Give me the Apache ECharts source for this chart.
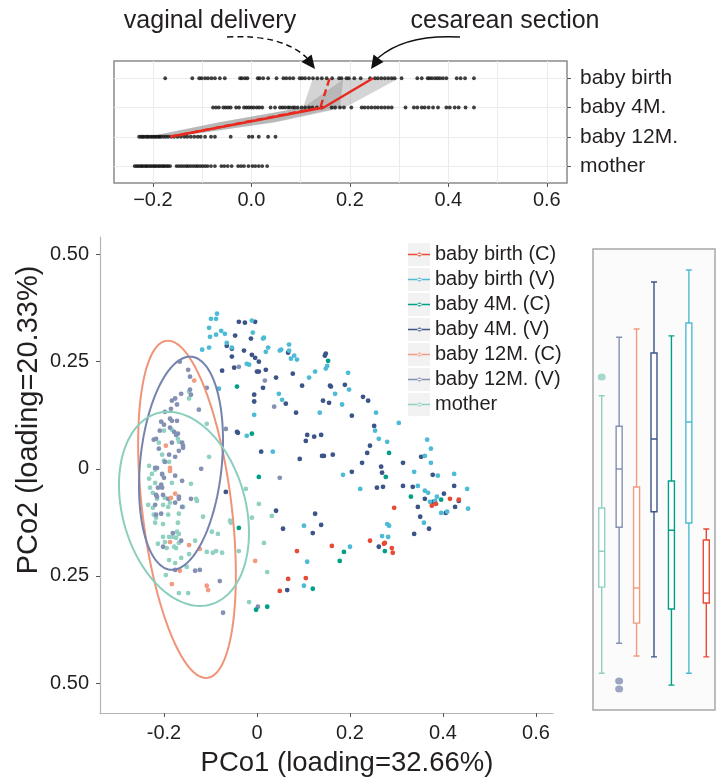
<!DOCTYPE html>
<html><head><meta charset="utf-8">
<script src="https://cdn.jsdelivr.net/npm/echarts@6/dist/echarts.min.js"></script>
<style>html,body{margin:0;padding:0;background:#fff}#c{width:727px;height:781px}</style>
</head><body><div id="c"></div>
<script>
// ---------------- DATA ----------------
const groupNames = ['baby birth (C)','baby birth (V)','baby 4M. (C)','baby 4M. (V)','baby 12M. (C)','baby 12M. (V)','mother'];
const groupColors = ['#E64B35','#4DBBD5','#00A087','#3C5488','#F39B7F','#8491B4','#91D1C2'];

const birthC = [[0.295,-0.091],[0.415,-0.070],[0.434,-0.072],[0.376,-0.086],[0.385,-0.082],[0.243,-0.168],[0.273,-0.175],[0.275,-0.173],[0.290,-0.185],[0.292,-0.196],[0.161,-0.180],[0.086,-0.192],[0.105,-0.255],[0.067,-0.257],[0.049,-0.285]];
const birthV = [[0.034,0.040],[0.280,0.063],[0.366,0.068],[0.374,0.047],[0.361,0.030],[0.374,0.014],[0.338,-0.007],[0.389,-0.016],[0.424,-0.012],[0.452,-0.047],[0.454,-0.093],[0.185,-0.014],[0.222,-0.047],[0.346,-0.040],[0.361,-0.051],[0.368,-0.056],[0.372,-0.077],[0.383,-0.075],[0.387,-0.065],[0.396,-0.103],[0.409,-0.100],[0.359,-0.126],[0.280,-0.129],[0.284,-0.133],[0.269,-0.157],[0.282,-0.159],[0.101,-0.133],[0.200,-0.182],[0.108,-0.217],[0.101,-0.273],[-0.086,0.362],[-0.099,0.350],[-0.088,0.350],[-0.103,0.329],[-0.077,0.322],[-0.069,0.315],[-0.088,0.313],[-0.101,0.308],[-0.118,0.278],[-0.103,0.283],[-0.065,0.294],[-0.054,0.283],[-0.011,0.346],[-0.009,0.318],[0.013,0.304],[0.015,0.306],[0.024,0.283],[0.019,0.273],[-0.022,0.245],[-0.017,0.243],[0.049,0.276],[0.052,0.278],[0.069,0.290],[0.069,0.276],[0.080,0.264],[0.073,0.257],[0.086,0.255],[0.112,0.213],[0.125,0.227],[0.148,0.234],[0.151,0.240],[0.196,0.224],[0.198,0.185],[0.168,0.175],[0.183,0.150],[0.047,0.175],[0.054,0.161],[0.135,0.131],[-0.082,0.187],[-0.006,0.126],[-0.022,0.077],[0.256,0.131],[0.305,0.107],[0.254,0.089],[0.262,0.070]];
const m4C = [[0.284,0.037],[0.004,-0.019],[0.277,-0.019],[0.331,-0.065],[0.396,-0.072],[0.187,-0.194],[0.275,-0.192],[0.178,-0.215],[0.120,-0.280],[0.022,-0.322],[-0.002,-0.329],[-0.043,0.192],[0.153,0.252],[-0.011,0.082],[-0.039,-0.138]];
const m4V = [[0.105,0.065],[0.009,0.040],[0.092,0.023],[0.140,0.030],[0.144,0.030],[0.163,0.033],[0.243,0.054],[0.237,0.037],[0.226,0.014],[0.204,-0.007],[0.267,0.005],[0.269,-0.009],[0.258,-0.044],[0.271,-0.042],[0.314,0.014],[0.353,0.028],[0.314,-0.040],[0.335,-0.042],[0.378,-0.014],[0.402,-0.058],[0.424,-0.040],[0.361,-0.070],[0.434,-0.075],[0.426,-0.089],[0.406,-0.103],[0.346,-0.089],[0.351,-0.112],[0.370,-0.140],[0.338,-0.152],[0.041,-0.098],[0.125,-0.105],[0.056,-0.140],[0.138,-0.131],[0.120,-0.150],[0.262,-0.182],[0.065,-0.283],[0.378,-0.077],[-0.039,0.343],[-0.026,0.341],[-0.004,0.343],[-0.047,0.311],[-0.013,0.304],[-0.065,0.287],[-0.054,0.280],[-0.028,0.276],[-0.011,0.266],[-0.004,0.259],[0.004,0.250],[-0.054,0.262],[-0.049,0.236],[-0.075,0.229],[0.000,0.227],[0.004,0.227],[0.019,0.231],[0.067,0.271],[0.041,0.213],[0.077,0.222],[0.146,0.264],[0.148,0.269],[0.097,0.194],[0.157,0.194],[0.159,0.192],[0.189,0.196],[-0.006,0.173],[-0.006,0.157],[0.013,0.189],[0.062,0.152],[0.142,0.159],[0.155,0.154],[0.084,0.131],[0.204,0.124],[-0.043,0.086],[-0.041,0.084],[0.108,0.079],[0.123,0.075],[0.138,0.079],[0.228,0.168],[0.239,0.159],[0.252,0.100],[-0.067,-0.054]];
const m12C = [[-0.135,0.206],[-0.196,0.054],[-0.187,0.002],[-0.187,-0.005],[-0.176,-0.058],[-0.185,-0.068],[-0.187,-0.171],[-0.146,-0.178],[-0.123,-0.187],[-0.166,-0.238],[-0.183,-0.269],[-0.108,-0.273],[-0.105,-0.283],[-0.004,-0.215]];
const m12V = [[0.049,-0.021],[0.002,-0.322],[-0.039,0.238],[0.017,0.206],[0.037,0.145],[-0.108,0.189],[-0.067,0.093],[-0.166,0.250],[-0.148,0.231],[-0.144,0.215],[-0.144,0.185],[-0.142,0.173],[-0.163,0.175],[-0.183,0.159],[-0.176,0.164],[-0.172,0.150],[-0.185,0.140],[-0.198,0.133],[-0.125,0.138],[-0.206,0.110],[-0.187,0.117],[-0.183,0.112],[-0.172,0.112],[-0.200,0.103],[-0.209,0.089],[-0.187,0.096],[-0.178,0.086],[-0.170,0.082],[-0.174,0.079],[-0.222,0.068],[-0.217,0.070],[-0.183,0.061],[-0.161,0.061],[-0.159,0.054],[-0.159,0.049],[-0.168,0.042],[-0.211,0.047],[-0.189,0.033],[-0.176,0.028],[-0.198,0.016],[-0.219,0.002],[-0.215,0.002],[-0.120,0.000],[-0.204,-0.012],[-0.200,-0.021],[-0.176,-0.016],[-0.161,-0.028],[-0.206,-0.037],[-0.213,-0.044],[-0.204,-0.044],[-0.217,-0.061],[-0.215,-0.065],[-0.202,-0.061],[-0.191,-0.070],[-0.168,-0.065],[-0.168,-0.070],[-0.142,-0.070],[-0.176,-0.079],[-0.161,-0.089],[-0.219,-0.084],[-0.217,-0.107],[-0.206,-0.105],[-0.181,-0.150],[-0.202,-0.182],[-0.163,-0.168],[-0.133,-0.238],[-0.123,-0.236],[-0.176,-0.236],[-0.080,-0.262],[-0.073,-0.336]];
const mother = [[0.004,-0.082],[0.032,-0.110],[-0.011,-0.114],[0.015,-0.173],[0.022,-0.241],[-0.017,-0.311],[-0.146,0.164],[-0.146,0.180],[-0.200,0.089],[-0.183,0.091],[-0.170,0.070],[-0.168,0.063],[-0.211,0.061],[-0.204,0.033],[-0.200,0.019],[-0.189,0.016],[-0.232,0.007],[-0.219,-0.002],[-0.226,-0.012],[-0.232,-0.023],[-0.204,-0.014],[-0.219,-0.033],[-0.230,-0.044],[-0.224,-0.056],[-0.183,-0.033],[-0.142,-0.035],[-0.103,0.028],[-0.198,-0.068],[-0.202,-0.084],[-0.234,-0.084],[-0.215,-0.070],[-0.224,-0.091],[-0.191,-0.089],[-0.187,-0.079],[-0.159,-0.089],[-0.131,-0.070],[-0.129,-0.075],[-0.222,-0.107],[-0.217,-0.114],[-0.219,-0.126],[-0.191,-0.107],[-0.168,-0.105],[-0.202,-0.129],[-0.170,-0.126],[-0.116,-0.112],[-0.058,-0.121],[-0.056,-0.126],[-0.172,-0.147],[-0.168,-0.152],[-0.202,-0.159],[-0.189,-0.159],[-0.181,-0.159],[-0.174,-0.161],[-0.168,-0.173],[-0.213,-0.175],[-0.198,-0.171],[-0.133,-0.168],[-0.097,-0.147],[-0.084,-0.152],[-0.178,-0.182],[-0.174,-0.185],[-0.194,-0.185],[-0.146,-0.199],[-0.163,-0.208],[-0.189,-0.213],[-0.176,-0.220],[-0.151,-0.229],[-0.108,-0.194],[-0.095,-0.196],[-0.088,-0.192],[-0.075,-0.196],[-0.196,-0.248],[-0.168,-0.290],[-0.148,-0.290],[-0.039,-0.192],[-0.024,-0.047],[-0.108,0.105]];

// 95% ellipses: centre and two conjugate half-axes (data units)
const ellipseGroups = ['baby 12M. (C)','baby 12M. (V)','mother'];
const ellipseColors = ['#F09478','#7482AE','#8CCEBE'];
const ellipseCenters = [[-0.1505,-0.0946],[-0.1634,0.0129],[-0.1570,-0.0935]];
const ellipseAxisA = [[-0.0409,0.3937],[0.0194,0.2488],[-0.0344,0.2266]];
const ellipseAxisB = [[0.0968,0],[0.0882,0],[0.1355,0]];

// top panel: PCo1 per time point
const rowNames = ['mother','baby 12M.','baby 4M.','baby birth'];
const rowBirth = [-0.175,-0.120,-0.106,-0.101,-0.094,-0.088,-0.081,-0.074,-0.064,-0.054,-0.023,-0.019,-0.013,-0.008,0.013,0.017,0.024,0.034,0.051,0.065,0.071,0.078,0.085,0.098,0.103,0.109,0.117,0.125,0.134,0.143,0.153,0.164,0.178,0.183,0.193,0.198,0.209,0.222,0.241,0.251,0.257,0.264,0.271,0.278,0.285,0.291,0.305,0.337,0.346,0.358,0.362,0.367,0.373,0.378,0.383,0.389,0.396,0.417,0.425,0.434,0.452];
const row4M = [-0.078,-0.072,-0.066,-0.057,-0.052,-0.047,-0.042,-0.031,-0.025,-0.015,-0.010,-0.005,0.000,0.005,0.011,0.016,0.022,0.039,0.048,0.058,0.063,0.068,0.074,0.078,0.084,0.088,0.094,0.102,0.109,0.117,0.124,0.133,0.143,0.163,0.170,0.180,0.188,0.203,0.224,0.230,0.237,0.244,0.251,0.257,0.264,0.271,0.278,0.285,0.313,0.330,0.337,0.346,0.352,0.360,0.369,0.379,0.396,0.403,0.413,0.421,0.435,0.452];
const row12M = [-0.228,-0.224,-0.221,-0.218,-0.214,-0.211,-0.208,-0.204,-0.201,-0.197,-0.194,-0.190,-0.187,-0.184,-0.179,-0.174,-0.169,-0.163,-0.157,-0.150,-0.143,-0.136,-0.130,-0.123,-0.116,-0.109,-0.103,-0.094,-0.082,-0.074,-0.042,-0.005,0.002,0.015,0.034,0.049];
const rowMother = [-0.237,-0.233,-0.230,-0.226,-0.223,-0.220,-0.216,-0.213,-0.210,-0.206,-0.203,-0.199,-0.196,-0.193,-0.189,-0.186,-0.182,-0.179,-0.176,-0.172,-0.169,-0.165,-0.152,-0.147,-0.142,-0.137,-0.132,-0.128,-0.123,-0.118,-0.113,-0.109,-0.104,-0.099,-0.094,-0.089,-0.082,-0.074,-0.061,-0.055,-0.048,-0.040,-0.027,-0.021,-0.015,-0.006,0.002,0.008,0.015,0.022,0.032];

// mean trajectories (levels: 1 = 12M, 2 = 4M, 3 = birth)
const trajLevels = [1,2,3];
const cesareanX = [-0.165,0.147,0.247];
const vaginalX = [-0.165,0.140,0.159];
const bandLevelsC = [1,1.5,2,3];
const bandLowC = [-0.21,-0.065,0.105,0.19];
const bandHighC = [-0.155,0.05,0.19,0.30];
const bandLevelsV = [1,1.5,2,3];
const bandLowV = [-0.21,-0.065,0.105,0.125];
const bandHighV = [-0.155,0.045,0.18,0.187];

// side box plots of PCo2: [min, Q1, median, Q3, max]
const boxOrder = ['mother','baby 12M. (V)','baby 12M. (C)','baby 4M. (V)','baby 4M. (C)','baby birth (V)','baby birth (C)'];
const boxColors = ['#91D1C2','#8491B4','#F39B7F','#3C5488','#00A087','#4DBBD5','#E64B35'];
const boxStats = [
  [-0.477,-0.276,-0.192,-0.091,0.171],
  [-0.407,-0.136,0.000,0.100,0.308],
  [-0.437,-0.360,-0.278,-0.042,0.327],
  [-0.439,-0.100,0.070,0.271,0.437],
  [-0.505,-0.327,-0.143,-0.028,0.311],
  [-0.477,-0.126,0.110,0.341,0.465],
  [-0.439,-0.313,-0.290,-0.166,-0.140]
];
const boxOutliers = [[0,0.215],[1,-0.495],[1,-0.514]];

const mainXTicks = [-0.2,0,0.2,0.4,0.6];
const mainYTicks = [-0.5,-0.25,0,0.25,0.5];
const topXTicks = [-0.2,0,0.2,0.4,0.6];
const topGridX = [-0.2,-0.1,0,0.1,0.2,0.3,0.4,0.5,0.6];

// ---------------- CHART ----------------
const FONT = 'Liberation Sans, Arial, Helvetica, sans-serif';
const TXT = '#231f20';
const chart = echarts.init(document.getElementById('c'), null, {renderer:'canvas'});

const groupData = [birthC, birthV, m4C, m4V, m12C, m12V, mother];
const drawOrder = [6,5,4,3,2,1,0];

function ellipsePoints(i){
  const pts=[]; const c=ellipseCenters[i], a=ellipseAxisA[i], b=ellipseAxisB[i];
  for(let k=0;k<=120;k++){const t=2*Math.PI*k/120;
    pts.push([c[0]+a[0]*Math.cos(t)+b[0]*Math.sin(t), c[1]+a[1]*Math.cos(t)+b[1]*Math.sin(t)]);}
  return pts;
}

const series = [];
drawOrder.forEach(g=>{
  series.push({name:groupNames[g], type:'scatter', xAxisIndex:0, yAxisIndex:0,
    data:groupData[g], symbolSize:4.8, itemStyle:{color:groupColors[g], opacity:1}, z:3});
});
ellipseGroups.forEach((n,i)=>{
  series.push({name:'ellipse '+n, type:'line', xAxisIndex:0, yAxisIndex:0, data:ellipsePoints(i),
    showSymbol:false, symbol:'none', lineStyle:{color:ellipseColors[i], width:2}, z:4, silent:true});
});

// top panel
const bandDefs = [
  {lv:bandLevelsC, lo:bandLowC, hi:bandHighC},
  {lv:bandLevelsV, lo:bandLowV, hi:bandHighV}
];
series.push({type:'custom', xAxisIndex:1, yAxisIndex:1, data:[[0,2],[0,2]], z:2, silent:true,
  renderItem:function(params, api){
    const b = bandDefs[params.dataIndex]; const pts=[];
    for(let i=0;i<b.lv.length;i++) pts.push(api.coord([b.lo[i], b.lv[i]]));
    for(let i=b.lv.length-1;i>=0;i--) pts.push(api.coord([b.hi[i], b.lv[i]]));
    return {type:'polygon', shape:{points:pts}, style:{fill:'rgba(135,135,135,0.36)'}};
  }});
const rows = [rowMother,row12M,row4M,rowBirth];
const topDots = [];
rows.forEach((r,li)=>r.forEach(x=>topDots.push([x,li])));
series.push({type:'scatter', xAxisIndex:1, yAxisIndex:1, data:topDots, symbolSize:3.8,
  itemStyle:{color:'#111'}, z:3, silent:true,
  markLine:{silent:true, symbol:'none', label:{show:false}, z:1,
    lineStyle:{color:'#ebebeb', width:1, type:'solid'},
    data: topGridX.map(v=>({xAxis:v})).concat([0,1,2,3].map(v=>({yAxis:v})))}});
series.push({type:'line', xAxisIndex:1, yAxisIndex:1, data:trajLevels.map((l,i)=>[vaginalX[i],l]),
  showSymbol:false, symbol:'none', lineStyle:{color:'#e8291f', width:2.4, type:[7,4]}, z:5, silent:true});
series.push({type:'line', xAxisIndex:1, yAxisIndex:1, data:trajLevels.map((l,i)=>[cesareanX[i],l]),
  showSymbol:false, symbol:'none', lineStyle:{color:'#e8291f', width:2.4}, z:5, silent:true});

// box panel
series.push({type:'boxplot', xAxisIndex:2, yAxisIndex:2, boxWidth:[6,6], silent:true,
  data: boxStats.map((d,i)=>({value:d, itemStyle:{color:'#fff', borderColor:boxColors[i], borderWidth:1.4}}))});
series.push({type:'scatter', xAxisIndex:2, yAxisIndex:2, symbolSize:[8,7], silent:true,
  data: boxOutliers.map(o=>({value:o, itemStyle:{color:boxColors[o[0]]}}))});

const legendIcon = 'path://M0,0L0.01,0L0,0.01Z M22,23L21.99,23L22,22.99Z M0,10.8L22,10.8L22,12.2L0,12.2Z M9.4,11.5A2.1,2.1 0 1 0 13.6,11.5A2.1,2.1 0 1 0 9.4,11.5Z';

const graphics = [];
groupNames.forEach((n,i)=>graphics.push({type:'rect', shape:{x:408,y:243+i*25,width:22,height:23},
  style:{fill:'#f2f2f2'}, z:-10, silent:true}));
graphics.push({type:'text', x:210, y:21, style:{text:'vaginal delivery', font:'25px '+FONT, fill:TXT, textAlign:'center', textVerticalAlign:'middle'}});
graphics.push({type:'text', x:505, y:21, style:{text:'cesarean section', font:'25px '+FONT, fill:TXT, textAlign:'center', textVerticalAlign:'middle'}});
graphics.push({type:'bezierCurve', shape:{x1:227,y1:37,cpx1:282,cpy1:34,x2:307,y2:58}, style:{stroke:'#111', lineWidth:1.5, lineDash:[6,4], fill:null}, z:20});
graphics.push({type:'polygon', shape:{points:[[315,69],[311.6,54.5],[301.5,62]]}, style:{fill:'#111'}, z:20});
graphics.push({type:'bezierCurve', shape:{x1:460,y1:37,cpx1:405,cpy1:34,x2:378,y2:58}, style:{stroke:'#111', lineWidth:1.5, fill:null}, z:20});
graphics.push({type:'polygon', shape:{points:[[371,69],[373.5,54.5],[383.5,62]]}, style:{fill:'#111'}, z:20});
graphics.push({type:'text', x:347, y:763, style:{text:'PCo1 (loading=32.66%)', font:'27.5px '+FONT, fill:TXT, textAlign:'center', textVerticalAlign:'middle'}});
graphics.push({type:'text', x:29, y:420, rotation:Math.PI/2, style:{text:'PCo2 (loading=20.33%)', font:'29px '+FONT, fill:TXT, textAlign:'center', textVerticalAlign:'middle'}});

const option = {
  animation:false,
  backgroundColor:'#fff',
  textStyle:{fontFamily:FONT},
  grid:[
    {left:100, top:237, width:453, height:476, show:false},
    {left:114, top:61, width:453, height:122, show:true, backgroundColor:'#fff', borderColor:'#8a8a8a', borderWidth:1.5, z:0},
    {left:593, top:249, width:122, height:461, show:true, backgroundColor:'#fbfbfb', borderColor:'#a8a8a8', borderWidth:1.5}
  ],
  xAxis:[
    {gridIndex:0, type:'value', min:-0.3376, max:0.6366,
      axisLine:{show:true, onZero:false, lineStyle:{color:'#b5b5b5', width:1.2}},
      axisTick:{show:true, length:4, customValues:mainXTicks, lineStyle:{color:'#555'}},
      axisLabel:{customValues:mainXTicks, fontSize:20, color:TXT, margin:10,
        formatter:v=>Math.abs(v)<1e-9?'0':String(+v.toFixed(1))},
      splitLine:{show:false}},
    {gridIndex:1, type:'value', min:-0.279, max:0.641,
      axisLine:{show:false, onZero:false},
      axisTick:{show:true, length:4, customValues:topXTicks, lineStyle:{color:'#555'}},
      axisLabel:{customValues:topXTicks, fontSize:20, color:TXT, margin:7,
        formatter:v=>(v<0?'\u2212':'')+Math.abs(v).toFixed(1)},
      splitLine:{show:false}},
    {gridIndex:2, type:'category', data:boxOrder, show:false}
  ],
  yAxis:[
    {gridIndex:0, type:'value', min:-0.570, max:0.541,
      axisLine:{show:true, onZero:false, lineStyle:{color:'#b5b5b5', width:1.2}},
      axisTick:{show:true, length:4, customValues:mainYTicks, lineStyle:{color:'#555'}},
      axisLabel:{customValues:mainYTicks, fontSize:20, color:TXT, margin:11,
        formatter:v=>Math.abs(v)<1e-9?'0':Math.abs(v).toFixed(2)},
      splitLine:{show:false}},
    {gridIndex:1, type:'value', position:'right', min:-0.58, max:3.59,
      axisLine:{show:false, onZero:false},
      axisTick:{show:true, length:4, customValues:[0,1,2,3], lineStyle:{color:'#555'}},
      axisLabel:{customValues:[0,1,2,3], fontSize:21, color:TXT, margin:13,
        formatter:v=>rowNames[Math.round(v)]},
      splitLine:{show:false}},
    {gridIndex:2, type:'value', min:-0.563, max:0.514, show:false, splitLine:{show:false}}
  ],
  legend:{left:408, top:243, orient:'vertical', itemWidth:22, itemHeight:23, itemGap:2, padding:0,
    selectedMode:false, z:10,
    textStyle:{fontSize:20, color:TXT, fontFamily:FONT, padding:[0,0,0,0]},
    data:groupNames.map(n=>({name:n, icon:legendIcon}))},
  graphic:graphics,
  series:series
};
chart.setOption(option);
</script></body></html>
